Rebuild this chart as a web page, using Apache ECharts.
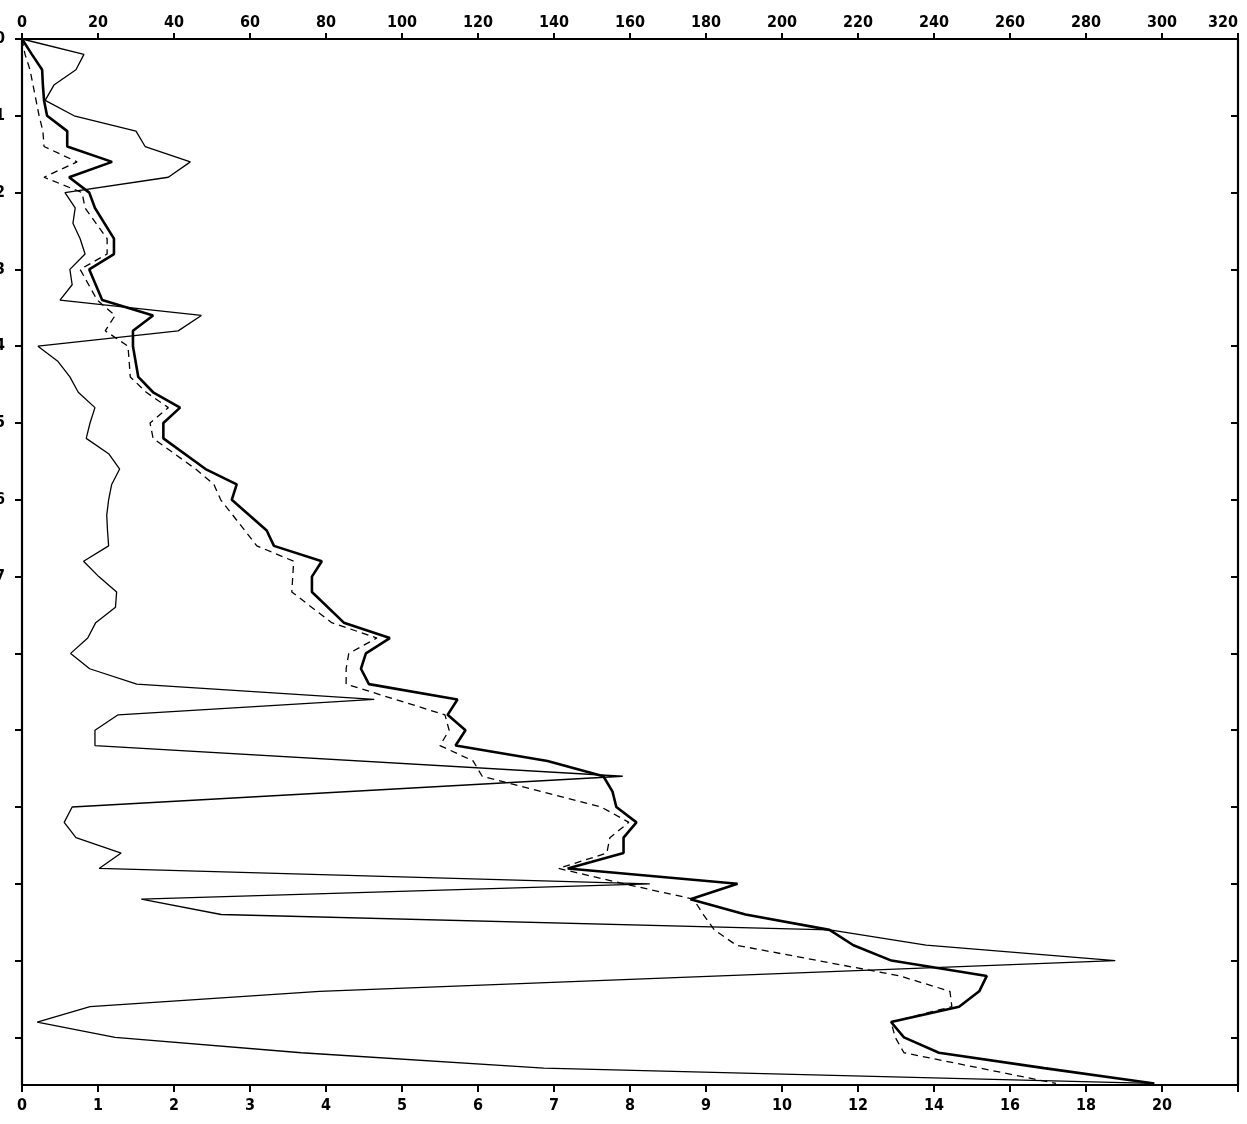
<!DOCTYPE html>
<html>
<head>
<meta charset="utf-8">
<script src="https://cdn.jsdelivr.net/npm/echarts@6/dist/echarts.min.js"></script>
<style>
html,body{margin:0;padding:0;background:#fff;}
#chart{width:1247px;height:1124px;}
</style>
</head>
<body>
<div id="chart"></div>
<script>
// Depth axis (vertical, downwards) and tick labels
const depthTicks = [0,1,2,3,4,5,6,7,8,9,10,11,12,13];
const depthLabels = ['0','1','2','3','4','5','6','7','','','','','',''];
const topTicks = [0,20,40,60,80,100,120,140,160,180,200,220,240,260,280,300,320];
const bottomLabels = ['0','1','2','3','4','5','6','7','8','9','10','12','14','16','18','20',''];

// Thin solid line
const thinDepth = [0,0.2,0.4,0.6,0.8,1.0,1.2,1.4,1.6,1.8,2.0,2.2,2.4,2.6,2.8,3.0,3.2,3.4,3.6,3.8,4.0,4.2,4.4,4.6,4.8,5.0,5.2,5.4,5.6,5.8,6.0,6.2,6.4,6.6,6.8,7.0,7.2,7.4,7.6,7.8,8.0,8.2,8.4,8.6,8.8,9.0,9.2,9.6,10.0,10.2,10.4,10.6,10.8,11.0,11.2,11.4,11.6,11.8,12.0,12.4,12.6,12.8,13.0,13.2,13.4,13.6];
const thinValue = [0,16.3,14.2,8.4,6.1,13.7,30.0,32.4,44.3,38.5,11.3,14.0,13.4,15.3,16.6,12.6,13.2,10.0,47.2,41.1,4.2,9.5,12.6,14.8,19.2,17.9,16.9,22.8,25.7,23.6,22.8,22.3,22.5,22.8,16.2,20.2,24.9,24.6,19.4,17.3,12.8,17.8,30.2,92.7,25.3,19.2,19.2,158.1,13.2,11.1,14.2,26.1,20.3,165.2,31.4,52.4,212.6,237.9,287.7,78.3,17.9,4.0,24.5,73.5,137.3,297.5];

// Thick solid line
const thickDepth = [0,0.2,0.4,0.6,0.8,1.0,1.2,1.4,1.6,1.8,2.0,2.2,2.6,2.8,3.0,3.4,3.6,3.8,4.0,4.4,4.6,4.8,5.0,5.2,5.6,5.8,6.0,6.4,6.6,6.8,7.0,7.2,7.6,7.8,8.0,8.2,8.4,8.6,8.8,9.0,9.2,9.4,9.6,9.8,10.0,10.2,10.4,10.6,10.8,11.0,11.2,11.4,11.6,11.8,12.0,12.2,12.4,12.6,12.8,13.0,13.2,13.4,13.6];
const thickValue = [0,2.6,5.3,5.5,5.8,6.6,11.9,11.9,23.7,12.4,17.7,19.2,24.2,24.2,17.7,21.1,34.5,29.2,29.2,30.6,34.5,41.6,37.2,37.2,48.3,56.5,55.2,64.4,66.3,78.9,76.3,76.3,84.7,96.8,90.5,89.2,91.3,114.6,112.0,116.7,114.1,138.3,153.0,155.4,156.4,161.7,158.3,158.3,143.6,188.3,175.9,190.4,212.5,218.8,228.8,253.9,251.9,246.6,228.7,232.1,241.3,269.0,298.0];

// Dashed line
const dashDepth = [0,0.2,0.4,0.6,0.8,1.0,1.2,1.4,1.6,1.8,2.0,2.2,2.6,2.8,3.0,3.4,3.6,3.8,4.0,4.4,4.6,4.8,5.0,5.2,5.6,5.8,6.0,6.6,6.8,7.2,7.6,7.8,8.0,8.2,8.4,8.8,9.0,9.2,9.4,9.6,10.0,10.2,10.4,10.6,10.8,11.0,11.2,11.4,11.6,11.8,12.2,12.4,12.6,12.8,13.0,13.2,13.6];
const dashValue = [0,0.8,2.1,2.9,3.7,4.5,5.5,5.8,14.5,5.8,15.8,16.6,22.4,22.4,15.3,19.8,24.5,21.9,27.9,28.5,32.7,38.5,33.7,34.5,45.7,50.5,52.3,61.8,71.5,71.0,81.5,93.4,86.0,85.3,85.3,111.3,112.4,110.0,118.7,121.1,152.4,159.7,154.7,153.9,141.2,158.4,176.7,179.3,182.2,188.0,231.0,244.2,244.7,228.7,229.8,232.1,272.1];

const pairs = (vals, deps) => vals.map((v, i) => [v, deps[i]]);

const FONT = "'DejaVu Sans Condensed', 'Liberation Sans Narrow', 'DejaVu Sans', sans-serif";
const axisLineStyle = { color: '#000', width: 2.2 };
const labelStyle = { color: '#000', fontFamily: FONT, fontWeight: 'bold', fontSize: 16 };

const chart = echarts.init(document.getElementById('chart'), null, { renderer: 'canvas' });
chart.setOption({
  backgroundColor: '#fff',
  animation: false,
  grid: { left: 22, right: 9, top: 39, bottom: 39, containLabel: false, outerBoundsMode: 'none' },
  xAxis: [
    {
      type: 'value', position: 'top', min: 0, max: 320, interval: 20,
      axisLine: { show: true, lineStyle: axisLineStyle },
      axisTick: { show: true, inside: false, length: 6, lineStyle: { color: '#000', width: 2 } },
      axisLabel: { show: true, margin: 8, alignMaxLabel: 'right', ...labelStyle },
      splitLine: { show: false }
    },
    {
      type: 'value', position: 'bottom', min: 0, max: 16, interval: 1,
      axisLine: { show: true, onZero: false, lineStyle: axisLineStyle },
      axisTick: { show: true, inside: false, length: 7, lineStyle: { color: '#000', width: 2 } },
      axisLabel: { show: true, margin: 13, ...labelStyle,
        formatter: (v) => bottomLabels[Math.round(v)] || '' },
      splitLine: { show: false }
    }
  ],
  yAxis: [
    {
      type: 'value', position: 'left', inverse: true, min: 0, max: 13.62,
      axisLine: { show: true, onZero: false, lineStyle: axisLineStyle },
      axisTick: { show: true, inside: false, length: 7, customValues: depthTicks, lineStyle: { color: '#000', width: 2 } },
      axisLabel: { show: true, margin: 17, ...labelStyle, customValues: depthTicks,
        formatter: (v) => depthLabels[Math.round(v)] || '' },
      splitLine: { show: false }
    },
    {
      type: 'value', position: 'right', inverse: true, min: 0, max: 13.62,
      axisLine: { show: true, onZero: false, lineStyle: axisLineStyle },
      axisTick: { show: true, inside: true, length: 7, customValues: depthTicks, lineStyle: { color: '#000', width: 2 } },
      axisLabel: { show: false },
      splitLine: { show: false }
    }
  ],
  series: [
    {
      name: 'thin', type: 'line', xAxisIndex: 0, yAxisIndex: 0,
      data: pairs(thinValue, thinDepth), showSymbol: false, symbol: 'none',
      lineStyle: { color: '#000', width: 1.3 }, silent: true
    },
    {
      name: 'dashed', type: 'line', xAxisIndex: 0, yAxisIndex: 0,
      data: pairs(dashValue, dashDepth), showSymbol: false, symbol: 'none',
      lineStyle: { color: '#000', width: 1.3, type: [7, 5] }, silent: true
    },
    {
      name: 'thick', type: 'line', xAxisIndex: 0, yAxisIndex: 0,
      data: pairs(thickValue, thickDepth), showSymbol: false, symbol: 'none',
      lineStyle: { color: '#000', width: 2.6 }, silent: true
    }
  ]
});
</script>
</body>
</html>
